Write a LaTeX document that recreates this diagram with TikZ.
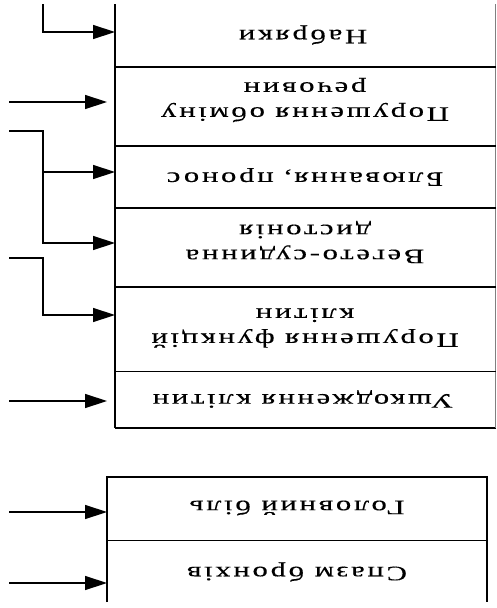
\documentclass[tikz,border=0pt]{standalone}
\usepackage{fontspec}
\setmainfont{Liberation Serif}
\newfontfamily\cellfont[FakeStretch=1.5,LetterSpace=13,FakeBold=0.3]{Liberation Serif}
\usetikzlibrary{arrows.meta}
\begin{document}
\begin{tikzpicture}[x=1pt,y=-1pt,
  frame/.style={line width=1.3pt, draw=black},
  thickframe/.style={line width=1.9pt, draw=black},
  conn/.style={line width=1.4pt, draw=black},
  arr/.style={conn, -{Triangle[length=22pt,width=14pt]}},
  celltext/.style={rotate=180, align=center, inner sep=0pt,
    font=\cellfont\fontsize{20.5}{25}\selectfont}]
\useasboundingbox (0,0) rectangle (496,608);

% block frames
\coordinate (topL) at (115,4);
\coordinate (botL) at (107,477);
\draw[thickframe] (topL) -- (115,428);
\draw[frame] (114.5,428) -- (496,428);
\draw[line width=0.8pt, draw=black!50] (495.6,4) -- (495.6,428);
\foreach \y in {67,146,208,287,371.5} \draw[frame] (115,\y) -- (496,\y);
\draw[frame] (107,602) -- (botL) -- (487,477) -- (487,602);
\draw[frame] (107,540.5) -- (487,540.5);

% texts
\node[celltext] (t1) at (303,35) {Набряки};
\node[celltext] (t2) at (305,100) {Порушення обміну\\речовин};
\node[celltext] (t3) at (305,177) {Блювання, пронос};
\node[celltext] (t4) at (305,242) {Вегето-судинна\\дистонія};
\node[celltext] (t5) at (305,328) {Порушення функцій\\клітин};
\node[celltext] (t6) at (303,399) {Ушкодження клітин};
\node[celltext] (t7) at (297,508) {Головний біль};
\node[celltext] (t8) at (297,572) {Спазм бронхів};

% connectors
\coordinate (s1) at (43,4);
\coordinate (e1) at (43,32);
\draw[arr] (s1) -- (e1) -- (e1 -| topL);

\coordinate (s2) at (9,102);
\draw[arr, shorten >=8pt] (s2) -- (s2 -| topL);

\coordinate (s3) at (9,131);
\coordinate (k3) at (43,131);
\coordinate (b3) at (43,172);
\coordinate (e3) at (43,243);
\draw[arr] (s3) -- (k3) -- (e3) -- (e3 -| topL);
\draw[arr] (b3) -- (b3 -| topL);

\coordinate (s4) at (9,258);
\coordinate (k4) at (43,258);
\coordinate (e4) at (43,315);
\draw[arr] (s4) -- (k4) -- (e4) -- (e4 -| topL);

\coordinate (s5) at (9,401);
\draw[arr, shorten >=8pt] (s5) -- (s5 -| topL);

\coordinate (s6) at (9,512);
\draw[arr] (s6) -- (s6 -| botL);
\coordinate (s7) at (9,583);
\draw[arr] (s7) -- (s7 -| botL);
\end{tikzpicture}
\end{document}
